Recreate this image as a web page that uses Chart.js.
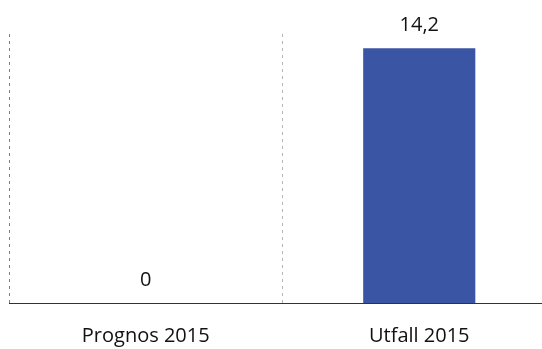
<!DOCTYPE html>
<html>
<head>
<meta charset="utf-8">
<script src="https://cdn.jsdelivr.net/npm/chart.js@4/dist/chart.umd.min.js"></script>
<style>
  html, body { margin: 0; padding: 0; background: #fff; overflow: hidden; }
  #wrap { width: 542px; height: 349px; overflow: hidden; position: relative; }
  #c { position: absolute; left: 0; top: 0; }
</style>
</head>
<body>
<div id="wrap"><canvas id="c" width="556" height="369"></canvas></div>
<script>
const categories = ['Prognos 2015', 'Utfall 2015'];
const values = [0, 14.2];
const yMax = 15;

const fontFamily = '"Open Sans", "Liberation Sans", sans-serif';

// Writes each bar's value above it with a decimal comma
const valueLabels = {
  id: 'valueLabels',
  afterDatasetsDraw(chart) {
    const ctx = chart.ctx;
    const meta = chart.getDatasetMeta(0);
    ctx.save();
    ctx.font = '20px ' + fontFamily;
    ctx.fillStyle = '#111';
    ctx.textAlign = 'center';
    ctx.textBaseline = 'bottom';
    meta.data.forEach((bar, i) => {
      const txt = String(values[i]).replace('.', ',');
      ctx.fillText(txt, bar.x, bar.y - 13);
    });
    ctx.restore();
  }
};

// Dashed vertical lines: left edge of the plot and the divider between categories
const gridColors = ['#808080', 'rgba(150,150,150,0.7)', 'rgba(0,0,0,0)'];

new Chart(document.getElementById('c'), {
  type: 'bar',
  data: {
    labels: categories,
    datasets: [{
      data: values,
      backgroundColor: '#3b55a5',
      borderWidth: 0,
      barPercentage: 0.82,
      categoryPercentage: 0.5
    }]
  },
  options: {
    responsive: false,
    animation: false,
    layout: { padding: { left: 9, right: 0, top: 34, bottom: 0 } },
    plugins: { legend: { display: false }, tooltip: { enabled: false } },
    scales: {
      x: {
        grid: {
          display: true,
          offset: true,
          drawTicks: false,
          color: (c) => gridColors[c.index] || 'rgba(0,0,0,0)',
          lineWidth: 1
        },
        border: { display: true, color: '#333', width: 1, dash: [3, 4] },
        ticks: {
          color: '#111',
          font: { family: fontFamily, size: 20 },
          padding: 21
        }
      },
      y: {
        min: 0,
        max: yMax,
        ticks: { display: false },
        grid: { display: false, drawTicks: false },
        border: { display: false }
      }
    }
  },
  plugins: [valueLabels]
});
</script>
</body>
</html>
